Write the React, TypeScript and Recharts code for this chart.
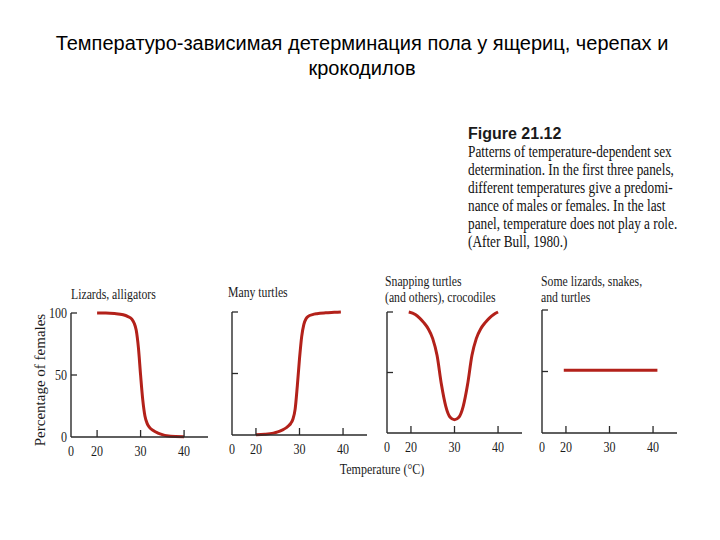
import React from 'react';
import { LineChart, Line, XAxis, YAxis } from 'recharts';

// ---------- text content ----------
const TITLE_LINES = [
  'Температуро-зависимая детерминация пола у ящериц, черепах и',
  'крокодилов',
];
const FIGURE_LABEL = 'Figure 21.12';
const CAPTION_LINES = [
  'Patterns of temperature-dependent sex',
  'determination. In the first three panels,',
  'different temperatures give a predomi-',
  'nance of males or females. In the last',
  'panel, temperature does not play a role.',
  '(After Bull, 1980.)',
];
const PANEL_TITLES = [
  ['Lizards, alligators'],
  ['Many turtles'],
  ['Snapping turtles', '(and others), crocodiles'],
  ['Some lizards, snakes,', 'and turtles'],
];
const Y_TITLE = 'Percentage of females';
const X_TITLE = 'Temperature (°C)';

// ---------- ticks ----------
const X_TICKS = [20, 30, 40];
const ORIGIN_LABEL = '0';
const Y_TICKS = [0, 50, 100];

// ---------- data (temperature °C, percentage of females) ----------
const lizardsAlligators = [
  { t: 20, pct: 100 }, { t: 22, pct: 100 }, { t: 24, pct: 99.6 }, { t: 26, pct: 98.6 },
  { t: 27, pct: 97.3 }, { t: 28, pct: 95 }, { t: 28.5, pct: 92 }, { t: 29, pct: 86 },
  { t: 29.5, pct: 72 }, { t: 30, pct: 50 }, { t: 30.5, pct: 30 }, { t: 31, pct: 17 },
  { t: 31.5, pct: 11 }, { t: 32, pct: 8 }, { t: 33, pct: 5 }, { t: 34, pct: 3.2 },
  { t: 35, pct: 1.9 }, { t: 36, pct: 1 }, { t: 38, pct: 0.4 }, { t: 40, pct: 0.3 },
];
const manyTurtles = [
  { t: 20, pct: 0.3 }, { t: 22, pct: 0.6 }, { t: 24, pct: 1.5 }, { t: 25, pct: 2.5 },
  { t: 26, pct: 4 }, { t: 27, pct: 6 }, { t: 27.5, pct: 7.5 }, { t: 28, pct: 9.5 },
  { t: 28.5, pct: 13 }, { t: 29, pct: 21 }, { t: 29.5, pct: 40 }, { t: 30, pct: 62 },
  { t: 30.5, pct: 80 }, { t: 31, pct: 90 }, { t: 31.5, pct: 94.5 }, { t: 32, pct: 96.5 },
  { t: 33, pct: 97.9 }, { t: 34, pct: 98.6 }, { t: 36, pct: 99.3 }, { t: 38, pct: 99.7 },
  { t: 39.5, pct: 100 },
];
const snappingTurtles = [
  { t: 19.5, pct: 100 }, { t: 21, pct: 98 }, { t: 22, pct: 95 }, { t: 23, pct: 91 },
  { t: 24, pct: 86 }, { t: 25, pct: 78 }, { t: 26, pct: 64 }, { t: 27, pct: 40 },
  { t: 28, pct: 22 }, { t: 29, pct: 13 }, { t: 30, pct: 11 }, { t: 31, pct: 13 },
  { t: 32, pct: 22 }, { t: 33, pct: 40 }, { t: 34, pct: 64 }, { t: 35, pct: 78 },
  { t: 36, pct: 86 }, { t: 37, pct: 91 }, { t: 38, pct: 95 }, { t: 39, pct: 98 },
  { t: 40, pct: 100 },
];
const someLizardsSnakes = [
  { t: 19.5, pct: 51 }, { t: 41, pct: 51 },
];

// ---------- styles / layout ----------
const RED = '#b3211a';
const AXIS = '#2a2a2a';
const SERIF = '"Liberation Serif", "DejaVu Serif", serif';
const SANS = '"Liberation Sans", Arial, sans-serif';
const SQUEEZE = 0.86;

const PANELS = [
  { data: lizardsAlligators, x: 71, y: 313, w: 137, h: 124, xmin: 14, xmax: 45.5, showY: true, tx: 71, ty: [299] },
  { data: manyTurtles, x: 232, y: 312, w: 135, h: 123, xmin: 14.5, xmax: 45.5, showY: false, tx: 228, ty: [297] },
  { data: snappingTurtles, x: 387, y: 312, w: 135, h: 121, xmin: 14.5, xmax: 45.5, showY: false, tx: 385, ty: [286, 302] },
  { data: someLizardsSnakes, x: 542, y: 310, w: 135, h: 123, xmin: 14.5, xmax: 45.5, showY: false, tx: 541, ty: [286, 302] },
];

const XTick = (props: any) => {
  const { x, y, payload, xmin } = props;
  const v = payload.value;
  const isOrigin = v === xmin;
  return (
    <g>
      {!isOrigin && <line x1={x} x2={x} y1={y} y2={y - 7} stroke={AXIS} strokeWidth={1.3} />}
      <text
        transform={`translate(${x},${y + 19}) scale(${SQUEEZE},1)`}
        textAnchor="middle"
        fontFamily={SERIF}
        fontSize={14}
        fill="#1a1a1a"
      >
        {isOrigin ? ORIGIN_LABEL : String(v)}
      </text>
    </g>
  );
};

const YTick = (props: any) => {
  const { x, y, payload, showLabel } = props;
  const v = payload.value;
  return (
    <g>
      {v !== 0 && <line x1={x} x2={x + 6} y1={y} y2={y} stroke={AXIS} strokeWidth={1.3} />}
      {showLabel && (
        <text
          transform={`translate(${x - 4},${y + 4.5}) scale(${SQUEEZE},1)`}
          textAnchor="end"
          fontFamily={SERIF}
          fontSize={14}
          fill="#1a1a1a"
        >
          {String(v)}
        </text>
      )}
    </g>
  );
};

function Panel(p: any) {
  const ML = 40, MT = 10, MR = 10, MB = 30, YW = 30;
  return (
    <div style={{ position: 'absolute', left: p.x - ML, top: p.y - MT }}>
      <LineChart
        width={p.w + ML + MR}
        height={p.h + MT + MB}
        data={p.data}
        margin={{ top: MT, right: MR, left: ML - YW, bottom: 0 }}
      >
        <XAxis
          type="number"
          dataKey="t"
          domain={[p.xmin, p.xmax]}
          ticks={[p.xmin, ...X_TICKS]}
          interval={0}
          height={MB}
          tickSize={0}
          tickMargin={0}
          tickLine={false}
          axisLine={{ stroke: AXIS, strokeWidth: 1.4 }}
          tick={(tp: any) => <XTick {...tp} xmin={p.xmin} />}
        />
        <YAxis
          type="number"
          domain={[0, 100]}
          ticks={Y_TICKS}
          interval={0}
          width={YW}
          tickSize={0}
          tickMargin={0}
          tickLine={false}
          axisLine={{ stroke: AXIS, strokeWidth: 1.4 }}
          tick={(tp: any) => <YTick {...tp} showLabel={p.showY} />}
        />
        <Line
          dataKey="pct"
          type="monotone"
          stroke={RED}
          strokeWidth={3}
          dot={false}
          isAnimationActive={false}
        />
      </LineChart>
    </div>
  );
}

export default function App() {
  return (
    <div style={{ position: 'absolute', left: 0, top: 0, width: 720, height: 540, background: '#fff', overflow: 'hidden' }}>
      <svg width={720} height={540} style={{ position: 'absolute', left: 0, top: 0 }}>
        {TITLE_LINES.map((l, i) => (
          <text key={i} x={362} y={50 + i * 25} textAnchor="middle" fontFamily={SANS} fontSize={20} fill="#000">
            {l}
          </text>
        ))}
        <text x={468} y={139} fontFamily={SANS} fontWeight="bold" fontSize={16} fill="#1a1a1a">
          {FIGURE_LABEL}
        </text>
        {CAPTION_LINES.map((l, i) => (
          <text
            key={i}
            transform={`translate(468,${157 + i * 18}) scale(0.83,1)`}
            fontFamily={SERIF}
            fontSize={16}
            fill="#111"
          >
            {l}
          </text>
        ))}
        {PANELS.map((p, i) =>
          PANEL_TITLES[i].map((l, j) => (
            <text
              key={`${i}-${j}`}
              transform={`translate(${p.tx},${p.ty[j]}) scale(0.84,1)`}
              fontFamily={SERIF}
              fontSize={14}
              fill="#1a1a1a"
            >
              {l}
            </text>
          ))
        )}
        <text
          transform="translate(45,380) rotate(-90)"
          textAnchor="middle"
          fontFamily={SERIF}
          fontSize={15}
          fill="#1a1a1a"
        >
          {Y_TITLE}
        </text>
        <text
          transform={`translate(382,474) scale(${SQUEEZE},1)`}
          textAnchor="middle"
          fontFamily={SERIF}
          fontSize={14}
          fill="#1a1a1a"
        >
          {X_TITLE}
        </text>
      </svg>
      {PANELS.map((p, i) => (
        <Panel key={i} {...p} />
      ))}
    </div>
  );
}
